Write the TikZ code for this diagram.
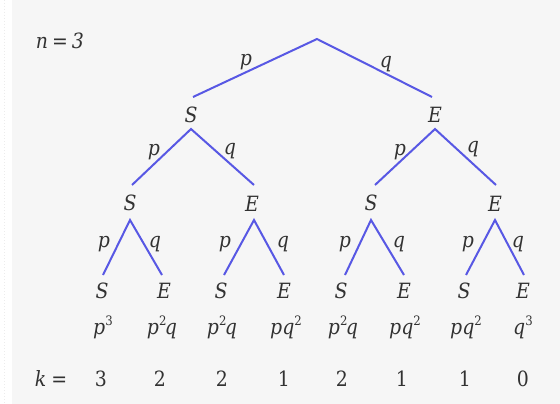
\documentclass[tikz,border=0pt]{standalone}
\usepackage{fontspec}
\setmainfont{DejaVu Serif Condensed}
\definecolor{edgeblue}{RGB}{88,88,228}
\definecolor{txt}{RGB}{50,50,50}
\definecolor{bgg}{RGB}{246,246,246}
\newcommand\mysup[1]{\raisebox{0.42em}{\upshape\fontsize{13}{13}\selectfont #1}}
\begin{document}
\begin{tikzpicture}[x=1pt,y=-1pt,
  edge/.style={draw=edgeblue, line width=2pt},
  lab/.style={font=\fontsize{21}{23}\selectfont\itshape, inner sep=0pt, text=txt},
  num/.style={font=\fontsize{21}{23}\selectfont, inner sep=0pt, text=txt}]
\useasboundingbox (0,0) rectangle (560,404);
\fill[white] (0,0) rectangle (560,404);
\fill[bgg] (12,0) rectangle (560,404);
\draw[gray!15, dotted, line width=1pt] (4,0) -- (4,404);
% root
\coordinate (r) at (317,39);
% level 1
\coordinate (a1) at (193,97);  \node[lab] (S1) at (191,115) {S}; \coordinate (b1) at (191,129);
\coordinate (a2) at (432,97);  \node[lab] (E1) at (435,115) {E}; \coordinate (b2) at (435,129);
\draw[edge] (a1) -- (r) -- (a2);
\node[lab] (p0) at (246,62) {p};
\node[lab] (q0) at (386,64) {q};
% level 2
\coordinate (c1) at (132,185); \node[lab] (S2a) at (130,203) {S}; \coordinate (d1) at (130,220);
\coordinate (c2) at (254,185); \node[lab] (E2a) at (252,204) {E}; \coordinate (d2) at (254,220);
\coordinate (c3) at (375,185); \node[lab] (S2b) at (371,203) {S}; \coordinate (d3) at (371,220);
\coordinate (c4) at (496,185); \node[lab] (E2b) at (495,204) {E}; \coordinate (d4) at (495,220);
\draw[edge] (c1) -- (b1) -- (c2);
\draw[edge] (c3) -- (b2) -- (c4);
\node[lab] (p1) at (154,152) {p};
\node[lab] (q1) at (230,151) {q};
\node[lab] (p2) at (400,152) {p};
\node[lab] (q2) at (473,149) {q};
% level 3
\coordinate (e1) at (103,275); \coordinate (e2) at (162,275);
\coordinate (e3) at (224,275); \coordinate (e4) at (284,275);
\coordinate (e5) at (345,275); \coordinate (e6) at (404,275);
\coordinate (e7) at (466,275); \coordinate (e8) at (524,275);
\draw[edge] (e1) -- (d1) -- (e2);
\draw[edge] (e3) -- (d2) -- (e4);
\draw[edge] (e5) -- (d3) -- (e6);
\draw[edge] (e7) -- (d4) -- (e8);
\node[lab] (p3) at (104,244) {p}; \node[lab] (q3) at (155,244) {q};
\node[lab] (p4) at (225,244) {p}; \node[lab] (q4) at (283,244) {q};
\node[lab] (p5) at (345,244) {p}; \node[lab] (q5) at (399,244) {q};
\node[lab] (p6) at (468,244) {p}; \node[lab] (q6) at (518,244) {q};
% leaves
\node[lab] (L1) at (102,291) {S}; \node[lab] (L2) at (164,291) {E};
\node[lab] (L3) at (221,291) {S}; \node[lab] (L4) at (284,291) {E};
\node[lab] (L5) at (341,291) {S}; \node[lab] (L6) at (404,291) {E};
\node[lab] (L7) at (464,291) {S}; \node[lab] (L8) at (523,291) {E};
% products
\node[lab, anchor=base] (P1) at (103,334) {p\mysup{3}};
\node[lab, anchor=base] (P2) at (162,334) {p\mysup{2}\hspace{-1.5pt}q};
\node[lab, anchor=base] (P3) at (222,334) {p\mysup{2}\hspace{-1.5pt}q};
\node[lab, anchor=base] (P4) at (286,334) {pq\mysup{2}};
\node[lab, anchor=base] (P5) at (343,334) {p\mysup{2}\hspace{-1.5pt}q};
\node[lab, anchor=base] (P6) at (405,334) {pq\mysup{2}};
\node[lab, anchor=base] (P7) at (466,334) {pq\mysup{2}};
\node[lab, anchor=base] (P8) at (523,334) {q\mysup{3}};
% k row
\node[num, anchor=base] (K0) at (51,386) {\textit{k}\hspace{5pt}=};
\node[num, anchor=base] (K1) at (101,386) {3};
\node[num, anchor=base] (K2) at (160,386) {2};
\node[num, anchor=base] (K3) at (222,386) {2};
\node[num, anchor=base] (K4) at (284,386) {1};
\node[num, anchor=base] (K5) at (342,386) {2};
\node[num, anchor=base] (K6) at (402,386) {1};
\node[num, anchor=base] (K7) at (465,386) {1};
\node[num, anchor=base] (K8) at (523,386) {0};
% n = 3
\node[num, anchor=base] (N) at (60,49) {\textit{n}\hspace{4pt}=\hspace{4pt}\textit{3}};
\end{tikzpicture}
\end{document}
